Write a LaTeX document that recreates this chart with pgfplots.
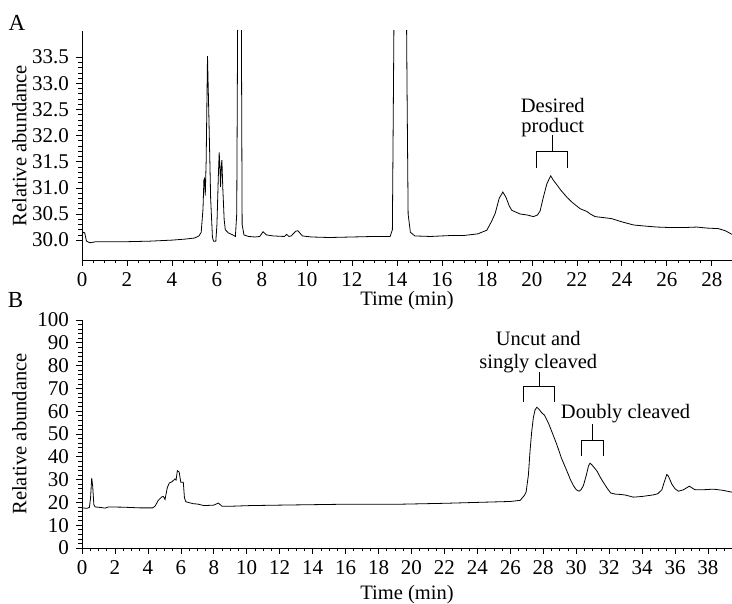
\documentclass[border=0pt]{standalone}
\usepackage{fontspec}
\setmainfont{Liberation Serif}
\usepackage{pgfplots}
\pgfplotsset{compat=1.18}
\pgfplotsset{
  chrom/.style={
    scale only axis,
    width=650pt,
    axis lines*=left,
    tick align=outside,
    major tick length=6pt,
    minor tick length=3.5pt,
    axis line style={line width=0.8pt},
    every tick/.style={black, line width=0.6pt},
    /pgf/number format/assume math mode=true,
    tick label style={font=\fontsize{21}{25}\selectfont},
    label style={font=\fontsize{20.5}{24}\selectfont},
    xtick distance=2,
    minor x tick num=3,
    clip=true,
  }
}
\begin{document}
\fontsize{20.5}{24}\selectfont
\begin{tikzpicture}
\useasboundingbox (0,0) rectangle (732pt,604pt);
% ---------------- Panel A ----------------
\begin{axis}[chrom,
  at={(82pt,344pt)}, anchor=south west,
  height=229pt,
  xmin=0, xmax=28.9,
  ymin=29.62, ymax=34.0,
  ytick={30,30.5,31,31.5,32,32.5,33,33.5},
  minor y tick num=4,
  yticklabel style={/pgf/number format/.cd, fixed, fixed zerofill, precision=1},
  xlabel={Time (min)},
  ylabel={Relative abundance},
  xlabel style={at={(axis description cs:0.5,-0.179)}, anchor=center},
  ylabel style={at={(axis description cs:-0.0962,0.5)}, anchor=center, rotate=0},
]
\addplot[black, line width=0.8pt] coordinates {
(0.00,30.10) (0.05,30.15) (0.12,30.14) (0.2,29.98) (0.35,29.95) (0.5,29.96) (0.6,29.97)
(1.0,29.97) (2.0,29.97) (3.0,29.98) (4.0,30.00) (4.6,30.02) (5.0,30.04) (5.2,30.08)
(5.3,30.15) (5.38,30.6) (5.42,31.15) (5.45,31.18) (5.48,30.85) (5.52,31.5) (5.58,33.52)
(5.65,32.2) (5.72,30.8) (5.8,30.05) (5.85,29.98) (5.95,29.98) (6.0,30.3) (6.06,31.2)
(6.10,31.68) (6.14,31.3) (6.16,31.02) (6.19,31.4) (6.22,31.53) (6.26,31.0) (6.32,30.4)
(6.37,30.2) (6.5,30.14) (6.7,30.1) (6.82,30.07) (6.88,30.5) (6.94,36.0) (7.0,45)
(7.07,36.0) (7.12,30.3) (7.2,30.1) (7.4,30.07) (7.7,30.06) (7.9,30.07) (8.05,30.16)
(8.2,30.1) (8.5,30.08) (9.0,30.07) (9.1,30.11) (9.2,30.07) (9.3,30.08) (9.5,30.17)
(9.6,30.18) (9.8,30.08) (10.2,30.06) (11.0,30.05) (12.0,30.06) (13.0,30.07) (13.7,30.07)
(13.8,30.2) (13.85,33) (13.9,36) (14.15,45) (14.4,36) (14.45,33) (14.5,30.5) (14.6,30.15)
(14.8,30.08) (15.5,30.07) (16.5,30.09) (17.0,30.09) (17.6,30.12) (18.0,30.19) (18.2,30.35)
(18.37,30.51) (18.55,30.8) (18.71,30.92) (18.85,30.82) (19.0,30.65) (19.11,30.57)
(19.48,30.50) (19.8,30.48) (20.07,30.45) (20.25,30.48) (20.37,30.56) (20.5,30.8)
(20.67,31.08) (20.84,31.23) (20.95,31.15) (21.11,31.06) (21.3,30.95) (21.56,30.82)
(21.8,30.72) (22.15,30.6) (22.44,30.55) (22.6,30.5) (22.81,30.45) (23.2,30.43)
(23.56,30.41) (24.0,30.35) (24.52,30.29) (25.0,30.27) (25.56,30.25) (26.2,30.24)
(26.74,30.24) (27.33,30.25) (27.8,30.23) (28.29,30.22) (28.6,30.18) (28.9,30.11)
};
\draw[line width=0.8pt] (axis cs:20.2,31.38) -- (axis cs:20.2,31.69) -- (axis cs:21.6,31.69) -- (axis cs:21.6,31.38);
\draw[line width=0.8pt] (axis cs:20.9,31.69) -- (axis cs:20.9,32.01);
\node[anchor=base, inner sep=0pt] at (axis cs:20.93,32.45) {Desired};
\node[anchor=base, inner sep=0pt] at (axis cs:20.93,32.05) {product};
\end{axis}
% ---------------- Panel B ----------------
\begin{axis}[chrom,
  at={(82pt,56pt)}, anchor=south west,
  height=228pt,
  xmin=0, xmax=39.46,
  ymin=0, ymax=100,
  ytick distance=10,
  minor y tick num=4,
  xlabel={Time (min)},
  ylabel={Relative abundance},
  xlabel style={at={(axis description cs:0.5,-0.204)}, anchor=center},
  ylabel style={at={(axis description cs:-0.0962,0.5)}, anchor=center, rotate=0},
]
\addplot[black, line width=0.8pt] coordinates {
(0.0,17.6) (0.3,17.4) (0.45,17.8) (0.52,22) (0.59,30.7) (0.65,27) (0.72,19) (0.8,18.0)
(1.1,17.8) (1.4,17.5) (1.6,18.0) (2.5,17.9) (3.5,17.6) (4.3,17.6) (4.45,18.5) (4.63,20.9)
(4.84,22.4) (4.94,22.6) (5.04,21.3) (5.18,26.5) (5.3,28.5) (5.45,29.0) (5.65,30.3)
(5.71,29.8) (5.79,33.9) (5.9,33.3) (5.97,30) (6.0,28.8) (6.15,28.8) (6.22,22) (6.3,20.3)
(6.5,19.9) (6.76,19.4) (7.0,19.3) (7.4,18.6) (8.0,18.8) (8.28,19.7) (8.5,18.3) (9.0,18.3)
(10.2,18.6) (12.0,18.8) (14.0,19.0) (16.0,19.2) (19.3,19.2) (22.0,19.6) (24.0,20.0)
(26.0,20.4) (26.6,20.9) (26.85,23) (26.96,24.5) (27.1,32) (27.2,42.6) (27.3,51)
(27.40,57.1) (27.5,60.5) (27.61,61.7) (27.75,60.8) (27.91,59.3) (28.07,58.3) (28.31,54.9)
(28.55,50.5) (28.82,45.5) (29.1,39.5) (29.43,33.9) (29.65,30) (29.83,27.4) (30.0,25.6)
(30.18,24.9) (30.3,25.6) (30.44,27.4) (30.6,31.5) (30.75,36) (30.84,37.2) (30.95,36.5)
(31.25,33.9) (31.45,31.2) (31.65,28.8) (31.9,26) (32.1,24.1) (32.4,23.6) (32.67,23.5)
(33.0,23.2) (33.47,22.3) (34.0,22.6) (34.69,23.3) (34.95,23.8) (35.2,25.5) (35.35,29)
(35.5,32.2) (35.6,31.5) (35.8,28.1) (36.0,26) (36.2,24.9) (36.5,25.5) (36.87,27.1)
(37.2,25.6) (37.6,25.5) (38.33,25.8) (38.9,25.3) (39.45,24.5)
};
\draw[line width=0.8pt] (axis cs:26.8,64.2) -- (axis cs:26.8,70.7) -- (axis cs:28.7,70.7) -- (axis cs:28.7,64.2);
\draw[line width=0.8pt] (axis cs:27.76,70.7) -- (axis cs:27.76,77.3);
\node[anchor=base, inner sep=0pt] at (axis cs:27.7,89.0) {Uncut and};
\node[anchor=base, inner sep=0pt] at (axis cs:27.7,78.9) {singly cleaved};
\draw[line width=0.8pt] (axis cs:30.33,40.4) -- (axis cs:30.33,47.1) -- (axis cs:31.65,47.1) -- (axis cs:31.65,40.4);
\draw[line width=0.8pt] (axis cs:30.99,47.1) -- (axis cs:30.99,54.4);
\node[anchor=base, inner sep=0pt] at (axis cs:33.0,57.0) {Doubly cleaved};
\end{axis}
% panel letters
\node[font=\fontsize{23}{26}\selectfont] at (17pt,581.5pt) {A};
\node[font=\fontsize{23}{26}\selectfont] at (15.5pt,304pt) {B};
\end{tikzpicture}
\end{document}
